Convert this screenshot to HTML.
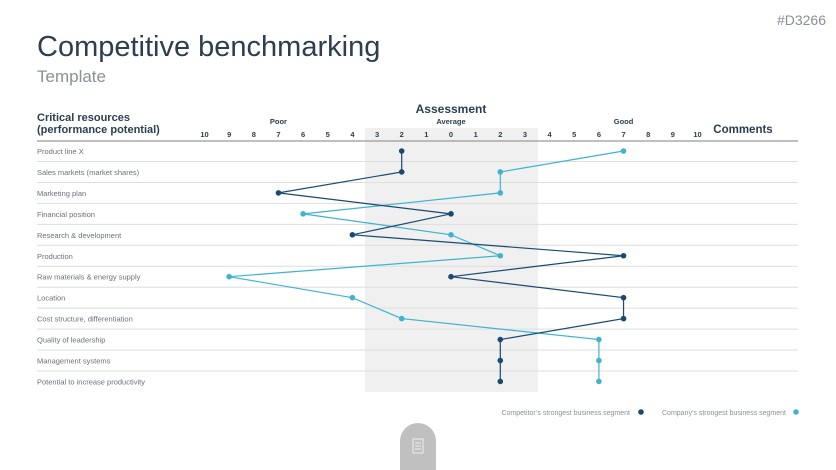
<!DOCTYPE html>
<html><head><meta charset="utf-8"><style>
body{margin:0;width:836px;height:470px;overflow:hidden;background:#fff;font-family:"Liberation Sans",sans-serif}
</style></head><body>
<svg width="836" height="470" style="position:absolute;left:0;top:0">
<text x="826" y="25" text-anchor="end" font-size="14" fill="#8a8f96">#D3266</text>
<text x="37" y="56" font-size="29" fill="#2c3e50">Competitive benchmarking</text>
<text x="37" y="82" font-size="17" fill="#8a9097">Template</text>
<rect x="365" y="128" width="173" height="264" fill="#f0f0f0"/>
<text x="37" y="121" font-size="11" font-weight="bold" fill="#2c3e50">Critical resources</text>
<text x="37" y="133" font-size="11" font-weight="bold" fill="#2c3e50">(performance potential)</text>
<text x="451" y="113" font-size="12" font-weight="bold" fill="#2c3e50" text-anchor="middle">Assessment</text>
<text x="743" y="133" font-size="11.5" font-weight="bold" fill="#2c3e50" text-anchor="middle">Comments</text>
<g id="axis"></g><g id="rows"></g><g id="lines"></g>
<line x1="37" y1="141" x2="798" y2="141" stroke="#999" stroke-width="1.2"/>
<text x="630" y="415" font-size="7" fill="#8a9097" text-anchor="end">Competitor’s strongest business segment</text>
<circle cx="641" cy="412" r="2.8" fill="#1a4a72"/>
<text x="786" y="415" font-size="7" fill="#8a9097" text-anchor="end">Company’s strongest business segment</text>
<circle cx="796" cy="412" r="2.8" fill="#3fb3cf"/>
<path d="M400 470 V441 A18 18 0 0 1 436 441 V470 Z" fill="#c0c0c0"/>
<rect x="413" y="439" width="10" height="14" fill="none" stroke="#eee" stroke-width="1"/>
<line x1="415" y1="443" x2="421" y2="443" stroke="#eee"/><line x1="415" y1="446" x2="421" y2="446" stroke="#eee"/><line x1="415" y1="449" x2="421" y2="449" stroke="#eee"/>
</svg>
<script>
const categories=["Product line X","Sales markets (market shares)","Marketing plan","Financial position","Research & development","Production","Raw materials & energy supply","Location","Cost structure, differentiation","Quality of leadership","Management systems","Potential to increase productivity"];
const competitor=[-2,-2,-7,0,-4,7,0,7,7,2,2,2];
const company=[7,2,2,-6,0,2,-9,-4,-2,6,6,6];
const ticks=[-10,-9,-8,-7,-6,-5,-4,-3,-2,-1,0,1,2,3,4,5,6,7,8,9,10];
const zoneLabels=["Poor","Average","Good"];
const zoneValues=[-7,0,7];
const NS="http://www.w3.org/2000/svg";
const xs=v=>451+v*24.65;
const ys=i=>151+i*20.95;
function mk(t,a,p){const e=document.createElementNS(NS,t);for(const k in a)e.setAttribute(k,a[k]);p.appendChild(e);return e;}
const ax=document.getElementById('axis'),rw=document.getElementById('rows'),ln=document.getElementById('lines');
ticks.forEach(v=>{const t=mk('text',{x:xs(v),y:137,'font-size':7.5,'font-weight':'bold',fill:'#2c3e50','text-anchor':'middle'},ax);t.textContent=Math.abs(v);

});
zoneLabels.forEach((s,i)=>{const t=mk('text',{x:xs(zoneValues[i]),y:124,'font-size':7.5,'font-weight':'bold',fill:'#2c3e50','text-anchor':'middle'},ax);t.textContent=s;

});
categories.forEach((c,i)=>{const t=mk('text',{x:37,y:ys(i)+3,'font-size':7.5,fill:'#6b7178'},rw);t.textContent=c;


if(i<categories.length-1){const l=mk('line',{x1:37,x2:798,y1:ys(i)+10.5,y2:ys(i)+10.5,stroke:'#dedede','stroke-width':1},rw);

}});
function series(vals,col,name){
const p=mk('polyline',{points:vals.map((v,i)=>xs(v)+','+ys(i)).join(' '),fill:'none',stroke:col,'stroke-width':1.2},ln);


vals.forEach((v,i)=>{const c=mk('circle',{cx:xs(v),cy:ys(i),r:2.8,fill:col},ln);

});}
series(company,'#3fb3cf','company');
series(competitor,'#1a4a72','competitor');
</script>
</body></html>
